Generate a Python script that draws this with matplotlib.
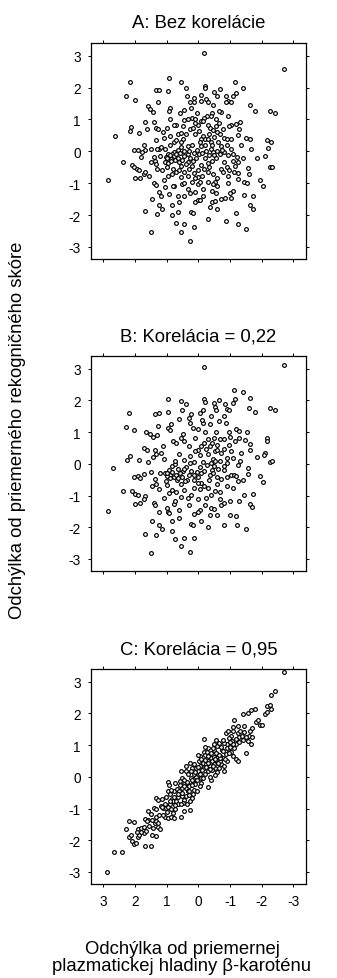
import matplotlib
matplotlib.use("Agg")
import matplotlib.pyplot as plt
import numpy as np

# Panel A: no correlation (x = beta-carotene deviation, y = recognition score deviation)
pts_a = [
    (-0.19, 3.08), (-2.70, 2.58), (2.17, 2.16), (2.27, 1.74), (2.0, 1.60), (0.93, 2.3),
    (0.95, 1.9), (1.35, 1.93), (1.24, 1.92), (0.54, 2.17), (0.38, 2.0), (-0.21, 2.06),
    (-0.21, 2.0), (-0.5, 1.87), (-1.16, 2.16), (-1.41, 2.0), (-1.11, 1.73), (-1.2, 1.84),
    (-0.88, 1.73), (-0.94, 1.58), (-1.03, 1.56), (-1.64, 1.45), (-1.79, 1.26), (-2.27, 1.26),
    (-2.41, 1.19), (2.63, 0.48), (2.84, -0.9), (2.39, -0.33), (2.17, 0.64), (2.14, 0.75),
    (1.86, 0.57), (1.68, 0.93), (1.61, 0.7), (1.6, 1.43), (1.53, 1.33), (1.42, 1.22),
    (1.27, 1.54), (1.41, 0.91), (1.35, 0.72), (1.26, 0.7), (1.35, 0.37), (1.08, 0.42),
    (1.71, 0.2), (1.69, 0.05), (2.02, 0.03), (1.89, 0.05), (1.78, -0.01), (1.51, 0.08),
    (1.24, 0.08), (1.8, -0.19), (2.1, -0.43), (2.02, -0.48), (1.93, -0.55), (1.86, -0.58),
    (1.73, -0.71), (1.68, -0.64), (2.0, -0.85), (1.83, -0.85), (1.55, -0.79), (1.39, -0.19),
    (1.37, -0.29), (1.33, -0.4), (1.31, -0.55), (1.39, -0.98), (1.34, -1.07), (1.24, -1.28),
    (1.18, -1.4), (1.47, -1.5), (1.68, -1.86), (1.24, -1.68), (1.16, -1.82), (1.31, -1.98),
    (1.49, -2.54), (1.08, -0.91), (0.95, -0.76), (0.83, -0.71), (0.94, -1.34), (0.83, -1.67),
    (0.83, -2.0), (0.71, -2.25), (0.54, -2.54), (0.44, -2.28), (0.25, -2.81), (0.13, -2.36),
    (0.23, -1.91), (0.17, -1.94), (0.63, -1.39), (0.76, -1.08), (0.53, -1.04), (0.44, -1.0),
    (0.32, -1.18), (0.25, -1.3), (0.1, -1.6), (0.02, -1.54), (-0.04, -1.54), (0.1, -1.28),
    (0.02, -1.04), (-0.31, -2.12), (-0.38, -1.76), (-0.44, -1.6), (-0.52, -1.57), (-0.6, -1.81),
    (-0.71, -1.5), (-0.84, -1.46), (-1.03, -1.47), (-0.86, -2.2), (-1.19, -1.94), (-1.24, -2.28),
    (-1.51, -2.45), (-1.45, -1.36), (-1.64, -1.67), (-1.72, -1.39), (-1.74, -1.81), (-1.09, -1.26),
    (-1.24, -0.86), (-1.45, -0.95), (-1.55, -1.0), (-1.6, -0.71), (-1.58, -0.51), (-1.95, -0.89),
    (-2.05, -1.08), (-1.86, -0.21), (-2.09, -0.15), (-2.26, -0.49), (-2.34, -0.48), (-2.17, 0.34),
    (-2.3, 0.28), (-2.19, 0.1), (-1.64, 0.39), (-1.49, 0.41), (-1.66, 0.08), (-1.24, 0.5),
    (-1.3, 0.71), (-1.33, 0.91), (-1.19, 0.86), (-1.03, 0.83), (-0.96, 0.78), (-0.94, 1.12),
    (-0.71, 1.22), (-0.66, 1.28), (-0.44, 1.2), (-0.4, 1.1), (-0.27, 1.12), (-0.17, 1.04),
    (-0.08, 0.95), (0.21, 1.06), (0.1, 1.01), (0.44, 0.97), (0.32, 1.01), (0.59, 1.2),
    (0.23, 1.37), (0.13, 1.54), (0.13, 1.66), (0.25, 1.54), (-0.08, 1.58), (-0.24, 1.64),
    (-0.31, 1.56), (-0.1, 1.77), (-0.6, 1.73), (-0.88, 1.54), (0.9, 1.37), (0.93, 1.28),
    (0.88, 1.01), (0.69, 0.83), (0.76, 0.81), (1.0, 0.72), (0.88, 0.49), (0.65, 0.55),
    (0.54, 0.57), (0.38, 0.55), (0.48, 0.78), (0.25, 0.7), (0.17, 0.72), (0.0, 0.83),
    (-0.03, 0.65), (-0.15, 0.49), (-0.21, 0.39), (-0.1, 0.39), (-0.29, 0.81), (-0.38, 0.72),
    (-0.46, 0.68), (-0.56, 0.78), (-0.6, 0.6), (-0.69, 0.55), (-0.77, 0.7), (-0.82, 0.41),
    (-0.92, 0.39), (-1.03, 0.39), (-0.71, 0.18), (-0.59, 0.01), (-0.4, 0.08), (-0.46, -0.03),
    (-0.5, -0.13), (-0.44, -0.29), (-0.29, -0.36), (-0.08, -0.43), (-0.19, -0.57), (-0.29, -0.66),
    (-0.13, -0.76), (0.02, -0.81), (0.13, -0.69), (0.34, -0.76), (0.21, -0.97), (0.44, -0.66),
    (0.54, -0.81), (0.69, -0.64), (0.79, -0.54), (0.54, -0.45), (0.34, -0.32), (0.25, -0.2),
    (0.44, -0.14), (0.34, -0.09), (0.13, -0.05), (0.04, 0.05), (0.21, 0.2), (0.34, 0.18),
    (0.54, 0.13), (0.65, 0.03), (0.77, -0.03), (0.83, -0.08), (0.95, -0.08), (1.03, -0.19),
    (1.06, -0.32), (0.95, -0.37), (0.85, -0.24), (0.73, -0.26), (0.63, -0.22), (1.06, 0.08),
    (1.18, 0.13), (0.77, 0.28), (0.48, 0.39), (-0.08, 0.18), (-0.21, 0.2), (-0.31, 0.39),
    (-0.4, 0.3), (-0.5, 0.44), (-0.82, -0.03), (-0.94, -0.13), (-1.03, 0.08), (-1.11, -0.08),
    (-1.22, -0.19), (-1.26, -0.32), (-1.09, -0.29), (-0.82, -0.34), (-0.9, -0.5), (-0.71, -0.55),
    (-0.78, -0.66), (-0.98, -0.6), (-1.13, -0.66), (-1.24, -0.68), (-0.94, -0.76), (-0.6, -0.85),
    (-0.52, -0.95), (-0.6, -1.08), (-0.46, -1.03), (-0.29, -0.97), (-0.42, -1.23), (-0.15, -1.18),
    (0.44, -1.39), (0.81, -1.08), (1.06, -1.13), (1.0, -0.5), (1.31, 0.08),
    # dense core
    (0.98, -0.2), (0.9, -0.12), (0.86, -0.3), (0.78, -0.15), (0.7, -0.1), (0.62, -0.33),
    (0.58, -0.05), (0.5, -0.28), (0.46, 0.02), (0.4, -0.4), (0.3, -0.55), (0.16, -0.3),
    (0.08, -0.2), (-0.02, -0.1), (-0.12, -0.05), (-0.25, 0.02), (-0.34, -0.12), (-0.42, 0.2),
    (-0.55, -0.22), (-0.62, 0.3), (-0.68, -0.1), (-0.74, 0.05), (-0.35, -0.5), (-0.45, -0.7),
    (-0.05, -0.95), (0.1, -0.85), (0.6, -0.6), (0.7, 0.35), (0.55, 0.3), (0.1, 0.55),
    (-0.05, 0.3), (-0.35, 0.55), (-0.15, 0.95), (-0.55, 1.0), (0.05, 1.2), (0.45, 1.3),
    (-0.45, 1.45), (-0.15, -1.4), (-0.55, -1.3), (0.62, -1.6), (-0.95, -1.0), (-1.15, -0.45),
    (-1.35, 0.2), (-0.9, 0.2), (0.2, -0.45), (0.9, 0.2), (1.15, -0.6), (1.5, -0.35),
    (1.2, -0.15), (0.1, 0.9), (-1.4, -0.2), (-1.0, -1.3), (0.35, 1.75), (-0.7, 1.95),
    (0.65, -1.9), (0.3, 0.0), (-0.2, -0.2), (-0.65, 0.9), (0.0, -0.6), (1.1, 0.6),
]

# Panel B: correlation 0.22
pts_b = [
    (-0.17, 3.06), (-2.69, 3.13), (2.18, 1.6), (2.29, 1.17), (2.02, 1.08), (0.95, 2.03),
    (1.37, 1.57), (1.24, 1.59), (0.97, 1.64), (1.28, 1.2), (0.56, 1.99), (0.39, 1.88),
    (-0.19, 2.04), (-0.21, 1.96), (-0.48, 1.92), (-0.52, 1.8), (-0.84, 1.89), (-0.9, 1.72),
    (-0.98, 1.71), (-1.09, 1.93), (-1.16, 2.04), (-1.14, 2.34), (-1.41, 2.27), (-1.64, 2.08),
    (-1.6, 1.77), (-1.79, 1.62), (-2.27, 1.75), (-2.41, 1.69), (-2.17, 0.83), (-2.17, 0.71),
    (-2.09, 0.34), (-2.07, 0.29), (-1.85, 0.22), (-2.25, 0.05), (-2.34, 0.08), (-1.62, 0.64),
    (-1.63, 0.43), (-1.46, 0.75), (-1.95, -0.39), (-2.04, -0.57), (-1.58, -0.12), (-1.58, -0.31),
    (-1.72, -0.96), (-1.45, -0.99), (-1.62, -1.26), (-1.7, -1.35), (-1.18, -1.63), (-1.22, -1.92),
    (-1.51, -2.05), (-0.82, -1.93), (-0.58, -1.62), (-0.36, -1.61), (-0.31, -2.0), (-0.4, -1.39),
    (-0.48, -1.43), (-0.73, -1.3), (-0.82, -1.23), (-1.0, -1.18), (-1.28, -1.16), (-0.67, -0.9),
    (-0.06, -1.44), (0.02, -1.51), (0.13, -1.58), (0.23, -1.91), (0.17, -1.94), (0.46, -2.33),
    (0.73, -2.36), (0.54, -2.6), (0.25, -2.79), (0.15, -2.33), (0.83, -2.13), (0.83, -1.79),
    (0.95, -1.51), (0.94, -1.55), (0.61, -1.44), (0.76, -1.26), (0.73, -1.18), (1.5, -2.81),
    (1.68, -2.2), (1.33, -2.23), (1.24, -1.93), (1.16, -2.06), (1.47, -1.79), (1.24, -1.53),
    (1.41, -1.24), (1.37, -1.29), (1.68, -1.0), (1.73, -1.1), (1.99, -1.26), (1.85, -1.23),
    (2.0, -0.95), (1.91, -0.99), (2.1, -0.87), (2.39, -0.86), (2.86, -1.5), (2.68, -0.13),
    (2.24, 0.12), (2.17, 0.25), (1.87, 0.12), (2.02, -0.42), (1.89, -0.39), (1.83, -0.44),
    (1.73, -0.33), (1.71, 0.49), (1.62, 0.43), (1.64, 1.02), (1.53, 0.95), (1.42, 0.86),
    (1.37, 0.43), (1.33, 0.32), (1.43, 0.22), (1.18, 0.33), (1.09, 0.16), (1.51, -0.25),
    (1.37, -0.49), (1.33, -0.63), (1.24, -0.79), (1.09, -1.09), (0.99, -0.67), (1.01, -0.55),
    (0.93, -0.93), (0.84, -0.83), (0.95, 1.13), (0.9, 1.06), (0.61, 1.4), (0.8, 0.72),
    (0.69, 0.65), (0.54, 0.83), (0.44, 0.72), (0.48, 0.95), (0.3, 1.45), (0.23, 1.56),
    (0.25, 1.28), (0.18, 1.12), (-0.06, 1.59), (-0.15, 1.69), (-0.15, 1.28), (-0.13, 1.38),
    (-0.38, 1.25), (-0.65, 1.35), (-0.56, 1.02), (-0.86, 1.28), (-0.98, 1.02), (-1.18, 1.1),
    (-1.28, 1.04), (-1.28, 0.83), (-1.16, 0.71), (-0.98, 0.6), (-0.8, 0.78), (-0.69, 0.78),
    (-0.48, 0.81), (-0.29, 0.78), (-0.19, 0.65), (-0.1, 0.57), (0.02, 0.43), (0.1, 0.39),
    (-0.04, 0.29), (-0.23, 0.47), (-0.36, 0.55), (-0.54, 0.39), (-0.6, 0.43), (-0.82, 0.47),
    (-1.03, 0.39), (-1.09, 0.18), (-0.92, 0.02), (-0.8, -0.07), (-0.69, 0.08), (-0.46, 0.15),
    (-0.4, 0.03), (-0.5, -0.08), (-0.44, -0.19), (-0.38, -0.36), (-0.19, -0.21), (-0.1, -0.29),
    (0.0, -0.41), (-0.08, -0.59), (-0.17, -0.7), (-0.04, -0.78), (0.13, -0.76), (0.23, -0.97),
    (0.34, -1.07), (0.44, -0.83), (0.54, -0.65), (0.67, -0.51), (0.77, -0.43), (0.88, -0.34),
    (0.98, -0.37), (1.06, -0.29), (0.93, -0.18), (0.83, -0.07), (0.73, -0.02), (0.63, -0.15),
    (0.48, -0.24), (0.38, -0.11), (0.25, 0.02), (0.44, 0.12), (0.23, -0.24), (0.13, -0.36),
    (0.36, -0.5), (-0.6, -0.42), (-0.71, -0.48), (-0.9, -0.4), (-1.03, -0.36), (-1.13, -0.34),
    (-1.19, -0.37), (-1.26, -0.55), (-0.92, -0.7), (-0.52, -0.86), (-0.4, -0.97), (-0.25, -1.07),
    (0.02, -1.12), (0.54, -1.05), (-0.63, -0.15), (-1.32, 0.08),
    # dense core
    (0.98, -0.3), (0.9, -0.45), (0.82, -0.25), (0.72, -0.35), (0.65, -0.45), (0.58, -0.3),
    (0.5, -0.4), (0.42, -0.55), (0.3, -0.35), (0.15, -0.5), (0.05, -0.25), (-0.05, -0.1),
    (-0.15, 0.05), (-0.28, -0.05), (-0.35, -0.5), (-0.45, -0.3), (-0.52, 0.1), (-0.6, -0.65),
    (-0.3, 0.3), (-0.42, 0.65), (-0.6, 0.6), (-0.72, 0.35), (-0.9, 0.2), (-0.2, 1.0),
    (-0.4, 1.5), (-0.8, 1.5), (-1.0, 0.85), (0.1, 0.8), (0.3, 0.55), (0.6, 0.3),
    (0.75, 0.1), (1.1, 0.55), (1.2, -0.3), (1.45, -0.7), (1.6, 0.05), (0.7, -0.9),
    (0.3, -1.3), (-0.2, -1.3), (-0.7, -1.1), (-1.1, -0.75), (-1.4, -0.5), (-1.35, 0.35),
    (0.0, 1.1), (0.5, 1.7), (-0.65, 2.0), (0.0, -0.6), (-0.8, -0.2), (0.15, 0.05),
    (-1.55, 1.0), (1.3, 0.9), (-0.1, -1.8), (0.6, -1.7), (-1.0, -1.6), (0.85, 1.25),
    (-0.3, -0.75), (0.25, 0.25), (-1.25, -0.05), (1.0, -1.4), (-0.55, 1.7), (0.45, -0.15),
]

# Panel C: correlation 0.95
pts_c = [
    (2.87, -3.01), (2.65, -2.38), (2.4, -2.37), (2.29, -1.64), (2.18, -1.39), (2.02, -1.41),
    (2.2, -1.91), (2.14, -1.83), (2.08, -2.02), (2.02, -2.12), (1.98, -2.08), (1.92, -1.91),
    (1.87, -1.83), (1.89, -1.66), (1.81, -1.6), (1.73, -1.58), (1.68, -2.17), (1.5, -2.19),
    (1.73, -1.78), (1.64, -1.72), (1.68, -1.34), (1.6, -1.37), (1.58, -1.08), (1.51, -1.16),
    (1.47, -1.83), (1.33, -1.85), (1.43, -1.6), (1.37, -1.47), (1.28, -1.58), (1.22, -1.64),
    (1.35, -1.28), (1.33, -1.39), (1.41, -0.97), (1.33, -1.03), (1.35, -0.68), (1.28, -0.74),
    (1.18, -0.92), (1.12, -0.99), (1.06, -0.86), (1.02, -0.97), (0.95, -0.94), (1.06, -1.28),
    (0.95, -1.3), (0.85, -1.26), (0.76, -1.3), (0.73, -1.03), (0.54, -1.26), (0.46, -1.07),
    (0.25, -1.05), (0.95, -0.16), (0.93, -0.26), (0.97, -0.45), (0.89, -0.55), (0.83, -0.7),
    (0.79, -0.76), (0.69, -0.76), (0.65, -0.65), (0.76, -0.45), (0.67, -0.37), (0.59, -0.52),
    (0.53, -0.61), (0.44, -0.72), (0.38, -0.62), (0.54, 0.18), (0.59, -0.13), (0.53, -0.03),
    (0.44, -0.24), (0.4, -0.36), (0.34, -0.45), (0.25, -0.76), (0.21, -0.68), (0.17, -0.55),
    (0.13, -0.41), (0.4, 0.18), (0.32, 0.08), (0.23, -0.03), (0.17, -0.13), (0.4, 0.34),
    (0.25, 0.43), (0.21, 0.29), (0.13, 0.42), (0.08, 0.29), (0.02, 0.18), (0.0, 0.05),
    (-0.08, -0.03), (-0.1, -0.19), (-0.04, -0.29), (0.04, -0.45), (-0.31, -0.32), (-0.4, -0.11),
    (-0.36, 0.0), (-0.21, 0.08), (-0.29, 0.18), (-0.17, 0.29), (-0.15, 0.44), (-0.02, 0.49),
    (-0.06, 0.65), (-0.17, 0.78), (-0.21, 0.68), (-0.19, 1.18), (-0.31, 0.91), (-0.27, 0.78),
    (-0.4, 0.6), (-0.44, 0.49), (-0.5, 0.39), (-0.54, 0.28), (-0.6, 0.16), (-0.54, 0.06),
    (-0.71, 0.39), (-0.82, 0.18), (-0.4, 0.76), (-0.5, 0.85), (-0.59, 0.96), (-0.65, 1.06),
    (-0.6, 0.73), (-0.69, 0.66), (-0.77, 0.6), (-0.86, 0.73), (-0.75, 0.85), (-0.92, 1.02),
    (-0.94, 0.89), (-1.03, 0.78), (-1.09, 0.66), (-1.19, 0.56), (-1.24, 0.51), (-1.14, 0.92),
    (-1.19, 1.04), (-1.07, 1.14), (-0.88, 1.38), (-0.94, 1.44), (-1.03, 1.29), (-1.14, 1.79),
    (-1.24, 1.59), (-1.26, 1.38), (-1.3, 1.27), (-1.41, 1.17), (-1.45, 1.6), (-1.51, 0.75),
    (-1.58, 2.0), (-1.64, 1.45), (-1.6, 1.28), (-1.66, 1.04), (-1.68, 1.27), (-1.83, 1.73),
    (-1.95, 1.64), (-2.0, 1.64), (-1.78, 2.15), (-1.67, 2.12), (-1.41, 1.98), (-2.1, 1.98),
    (-2.18, 2.06), (-2.18, 2.23), (-2.26, 2.27), (-2.31, 2.13), (-2.29, 2.58), (-2.41, 2.71),
    (-2.7, 3.32), (1.26, -1.46), (1.62, -1.39), (1.16, -0.95), (0.87, -1.02), (0.81, -1.13),
    (1.15, -0.71), (0.5, -0.36), (0.32, -0.24), (0.1, -0.24), (0.13, -0.08), (0.06, 0.01),
    (0.23, 0.18), (-0.23, 0.39), (-0.29, 0.51), (-0.48, 0.64), (-0.56, 0.53), (-0.67, 0.49),
    (-0.71, 0.93), (-0.82, 1.06), (-0.78, 1.16), (-0.98, 1.22), (-1.09, 1.44), (-1.11, 1.58),
    (-1.32, 1.45), (-1.38, 1.3), (-1.51, 1.25), (-1.58, 1.12), (-0.21, 0.54), (-0.04, 0.34),
    (-0.36, 0.33), (-0.44, 0.2), (-0.65, 0.28), (-0.92, 0.5), (-0.98, 0.76), (-0.56, 1.15),
    (-0.48, 1.04), (0.77, -0.63), (1.02, -0.63), (0.89, -0.86), (0.63, -0.86), (0.48, -0.83),
    (0.29, -0.57), (0.57, -0.26), (0.73, -0.2),
    # dense core
    (0.6, -0.45), (0.5, -0.5), (0.45, -0.3), (0.36, -0.15), (0.28, -0.3), (0.2, -0.1),
    (0.15, 0.1), (0.05, -0.1), (-0.05, 0.1), (-0.12, 0.2), (-0.1, 0.55), (-0.25, 0.3),
    (-0.32, 0.45), (-0.38, 0.25), (-0.45, 0.35), (-0.52, 0.55), (-0.62, 0.45), (-0.7, 0.6),
    (-0.78, 0.8), (-0.85, 0.55), (-0.9, 0.9), (-1.0, 0.95), (-1.1, 1.05), (-1.2, 1.2),
    (-1.3, 1.1), (-0.55, 0.75), (-0.3, 0.65), (0.0, 0.3), (0.1, 0.15), (0.3, -0.45),
    (0.65, -0.55), (0.75, -0.9), (0.9, -0.75), (1.0, -1.1), (1.1, -1.2), (1.25, -1.2),
    (1.45, -1.35), (1.55, -1.55), (1.8, -1.75), (1.95, -1.75), (0.55, -0.85), (0.35, -0.85),
    (0.2, -0.25), (-0.15, -0.05), (-0.65, 0.7), (-1.0, 1.1), (-1.45, 1.4), (-1.7, 1.55),
    (-1.9, 1.8), (-0.45, 0.9), (0.0, 0.7), (0.45, -0.1), (-0.2, 0.95), (-0.8, 0.35),
    (0.85, -0.4),
]

panel_titles = ["A: Bez korelácie", "B: Korelácia = 0,22", "C: Korelácia = 0,95"]
tick_values = [-3, -2, -1, 0, 1, 2, 3]
y_label = "Odchýlka od priemerného rekogničného skóre"
x_label_lines = ["Odchýlka od priemernej", "plazmatickej hladiny β-karoténu"]

plt.rcParams["font.family"] = ["Liberation Sans", "DejaVu Sans"]
plt.rcParams["axes.unicode_minus"] = False

fig = plt.figure(figsize=(3.37, 9.79), dpi=100)

boxes = [
    [0.269, 0.7344, 0.639, 0.2207],
    [0.269, 0.4157, 0.639, 0.2196],
    [0.269, 0.0960, 0.639, 0.2196],
]

for i, (pts, title, box) in enumerate(zip([pts_a, pts_b, pts_c], panel_titles, boxes)):
    axis = fig.add_axes(box)
    data = np.array(pts)
    axis.plot(data[:, 0], data[:, 1], "o", ms=2.7, mfc="white", mec="black",
              mew=0.85, linestyle="none")

    axis.set_xlim(3.4, -3.4)
    axis.set_ylim(-3.38, 3.4)
    axis.set_xticks(tick_values)
    axis.set_yticks(tick_values)
    axis.tick_params("both", which="both", direction="out", top=True, right=True,
                     length=2.5, width=0.7, labelsize=9.8, pad=4.5)
    if i < 2:
        axis.tick_params(axis="x", labelbottom=False)
    for spine in axis.spines.values():
        spine.set_linewidth(0.9)
    axis.set_title(title, fontsize=13.3, pad=11.5)

fig.text(0.052, 0.56, y_label, rotation=90, ha="center", va="center", fontsize=13.3)
fig.text(0.54, 1 - 954 / 979, x_label_lines[0], ha="center", va="baseline", fontsize=13.3)
fig.text(0.54, 1 - 971 / 979, x_label_lines[1], ha="center", va="baseline", fontsize=13.3)

fig.savefig("out.png", dpi=100)
